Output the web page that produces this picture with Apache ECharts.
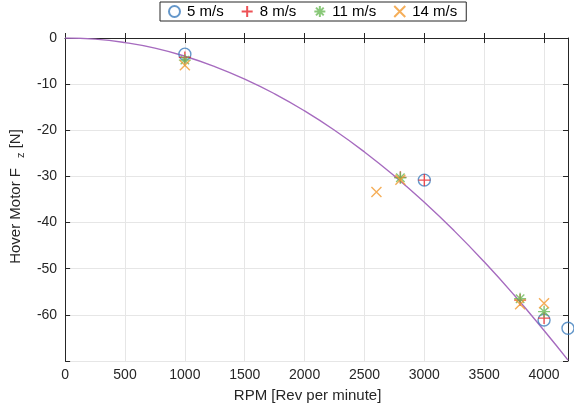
<!DOCTYPE html>
<html>
<head>
<meta charset="utf-8">
<script src="https://cdn.jsdelivr.net/npm/echarts@6/dist/echarts.min.js"></script>
<style>
  html, body { margin: 0; padding: 0; background: #fff; }
  #chart { width: 574px; height: 410px; }
</style>
</head>
<body>
<div id="chart"></div>
<script>
// Measured hover-motor thrust (N) per wind speed, against rotor speed (RPM)
const rpm5 = [1000, 3000, 4000, 4200];
const fz5 = [-3.5, -30.8, -61.1, -62.9];

const rpm8 = [1000, 2800, 3000, 3800, 4000];
const fz8 = [-4.2, -30.2, -30.8, -56.8, -60.7];

const rpm11 = [1000, 2800, 3800, 4000];
const fz11 = [-4.8, -30.3, -56.5, -59.3];

const rpm14 = [1000, 2600, 2800, 3800, 4000];
const fz14 = [-5.9, -33.4, -30.7, -57.7, -57.5];

// Fitted thrust curve
const rpmFit = [0, 250, 500, 750, 1000, 1250, 1500, 1750, 2000, 2250, 2500, 2750, 3000, 3250, 3500, 3750, 4000, 4200];
const fzFit = [0, -0.25, -1.0, -2.2, -3.96, -6.2, -8.9, -12.1, -15.8, -20.0, -24.7, -29.9, -35.6, -41.8, -48.5, -55.7, -63.4, -69.8];

const seriesNames = ['5 m/s', '8 m/s', '11 m/s', '14 m/s'];
const xTicks = { min: 0, max: 4200, interval: 500 };
const yTicks = { min: -70, max: 0, interval: 10 };

const zip = (xs, ys) => xs.map((x, i) => [x, ys[i]]);

const plusPath = 'path://M5,0L5,10M0,5L10,5';
const crossPath = 'path://M0,0L10,10M10,0L0,10';
const starPath = 'path://M5,0L5,10M0,5L10,5M1.5,1.5L8.5,8.5M8.5,1.5L1.5,8.5';

const axisColor = '#262626';
const font = 'Liberation Sans, Arial, Helvetica, sans-serif';

const chart = echarts.init(document.getElementById('chart'), null, { renderer: 'canvas' });

const baseX = {
  type: 'value', min: xTicks.min, max: xTicks.max, interval: xTicks.interval,
  axisLine: { show: true, lineStyle: { color: axisColor, width: 1 } },
  axisTick: { show: true, inside: true, length: 5, lineStyle: { color: axisColor } }
};
const baseY = {
  type: 'value', min: yTicks.min, max: yTicks.max, interval: yTicks.interval,
  axisLine: { show: true, onZero: false, lineStyle: { color: axisColor, width: 1 } },
  axisTick: { show: true, inside: true, length: 5, lineStyle: { color: axisColor } }
};

chart.setOption({
  animation: false,
  backgroundColor: '#fff',
  textStyle: { fontFamily: font },
  grid: { left: 64, right: 6, top: 38, bottom: 49, containLabel: false },
  legend: {
    top: 2, left: 160,
    padding: [2, 9, 2, 8],
    itemGap: 17, itemWidth: 11, itemHeight: 11,
    borderColor: axisColor, borderWidth: 1, backgroundColor: '#fff',
    textStyle: { fontSize: 15, color: '#000', fontFamily: font, padding: [0, 0, 0, 2] },
    data: seriesNames
  },
  xAxis: [
    Object.assign({}, baseX, {
      position: 'bottom',
      name: 'RPM [Rev per minute]', nameLocation: 'middle', nameGap: 27,
      nameTextStyle: { fontSize: 15, color: axisColor, fontFamily: font, padding: [0, 18, 0, 0] },
      axisLabel: { show: true, color: axisColor, fontSize: 14, margin: 7, fontFamily: font,
        formatter: v => String(v) },
      splitLine: { show: true, lineStyle: { color: '#e6e6e6', width: 1 } }
    }),
    Object.assign({}, baseX, {
      position: 'top',
      axisLabel: { show: false }, splitLine: { show: false }
    })
  ],
  yAxis: [
    Object.assign({}, baseY, {
      position: 'left',
      name: 'Hover Motor F{sub|z} [N]', nameLocation: 'middle', nameGap: 36,
      nameTextStyle: {
        fontSize: 15, color: axisColor, fontFamily: font, padding: [0, 0, 0, 6],
        rich: { sub: { fontSize: 11, color: axisColor, fontFamily: font, padding: [10, 0, 0, 10] } }
      },
      axisLabel: {
        show: true, color: axisColor, fontSize: 14, margin: 8, fontFamily: font,
        formatter: v => (v === yTicks.min ? '' : String(v))
      },
      splitLine: { show: true, lineStyle: { color: '#e6e6e6', width: 1 } }
    }),
    Object.assign({}, baseY, {
      position: 'right',
      axisLabel: { show: false }, splitLine: { show: false }
    })
  ],
  series: [
    {
      name: 'fit', type: 'line', data: zip(rpmFit, fzFit), smooth: true,
      showSymbol: false, symbol: 'none', z: 1,
      lineStyle: { color: '#a66bbf', width: 1.4 }, silent: true
    },
    {
      name: seriesNames[0], type: 'scatter', data: zip(rpm5, fz5),
      symbol: 'circle', symbolSize: 12, z: 2,
      itemStyle: { color: 'rgba(0,0,0,0)', borderColor: '#3d7dbd', borderWidth: 1.4 }
    },
    {
      name: seriesNames[1], type: 'scatter', data: zip(rpm8, fz8),
      symbol: plusPath, symbolSize: 12, z: 3,
      itemStyle: { color: 'rgba(0,0,0,0)', borderColor: '#e8262a', borderWidth: 1.4 }
    },
    {
      name: seriesNames[2], type: 'scatter', data: zip(rpm11, fz11),
      symbol: starPath, symbolSize: 12, z: 4,
      itemStyle: { color: 'rgba(0,0,0,0)', borderColor: '#6cba58', borderWidth: 1.4 }
    },
    {
      name: seriesNames[3], type: 'scatter', data: zip(rpm14, fz14),
      symbol: crossPath, symbolSize: 10, z: 5,
      itemStyle: { color: 'rgba(0,0,0,0)', borderColor: '#f39a30', borderWidth: 1.4 }
    }
  ]
});
</script>
</body>
</html>
